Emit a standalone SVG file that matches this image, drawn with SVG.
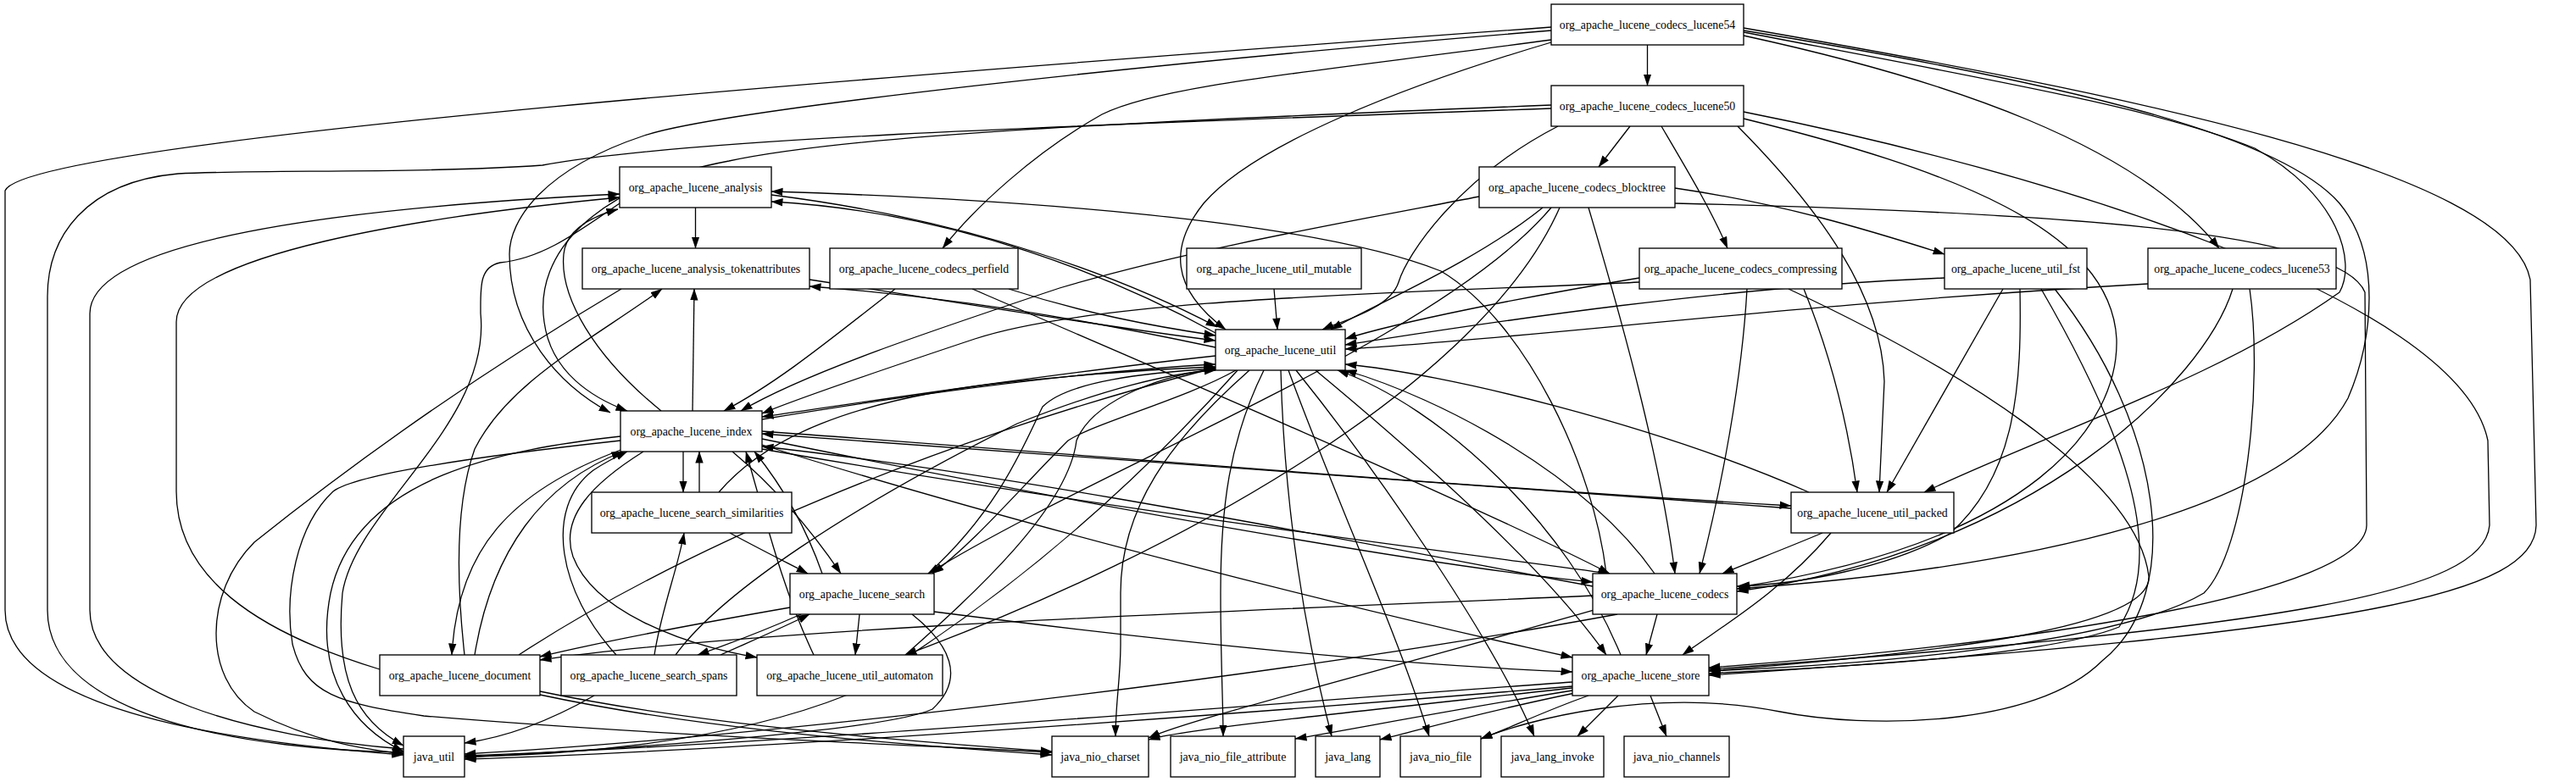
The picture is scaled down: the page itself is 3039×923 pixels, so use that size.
<svg xmlns="http://www.w3.org/2000/svg" width="3039" height="923" viewBox="0 0 3039 923">
<defs>
<marker id="ah" markerUnits="userSpaceOnUse" markerWidth="14" markerHeight="10" viewBox="0 0 14 10" refX="13.5" refY="5" orient="auto"><path d="M0,0.3 L14,5 L0,9.7 z" fill="#000"/></marker>
<style>
.e{fill:none;stroke:#000;stroke-width:1.3;marker-end:url(#ah)}
.n rect{fill:#fff;stroke:#000;stroke-width:1.33}
.n text{font-family:"Liberation Serif","Times New Roman",serif;font-size:13.8px;text-anchor:middle;fill:#000}
</style>
</defs>
<rect width="3039" height="923" fill="#fff"/>
<g id="edges">
<!-- lucene54 -->
<path class="e" d="M1943.5,53 L1943.5,101"/>
<path class="e" d="M1830,32 C1100,85 30,165 6,225 L6,720 C6,850 330,880 476,891"/>
<path class="e" d="M1830,36 C1350,75 850,130 760,160 C640,200 601,260 601,300 C601,390 660,455 720,487"/>
<path class="e" d="M1830,47 C1550,85 1370,100 1300,135 C1220,180 1150,245 1112,293"/>
<path class="e" d="M1830,50 C1660,100 1480,170 1420,240 C1380,290 1380,340 1446,389"/>
<path class="e" d="M2057,42 C2300,95 2520,170 2618,293"/>
<path class="e" d="M2057,38 C2380,100 2550,130 2660,175 C2760,230 2780,310 2760,345 C2620,445 2420,510 2270,581"/>
<path class="e" d="M2057,36 C2450,100 2690,160 2760,240 C2810,300 2800,400 2770,470 C2700,600 2400,670 2049,695"/>
<path class="e" d="M2057,33 C2500,110 2960,200 2985,330 L2992,620 C2990,700 2800,745 2016,797"/>
<!-- lucene50 -->
<path class="e" d="M1923,149 L1886,197"/>
<path class="e" d="M1960,149 C1990,200 2020,250 2038,293"/>
<path class="e" d="M1830,128 C1200,150 800,165 640,195 C500,205 300,200 210,205 C100,215 56,280 56,350 L56,720 C56,850 300,885 476,888"/>
<path class="e" d="M1830,124 C1300,145 1000,160 860,190 C700,220 630,300 642,380 C650,440 700,470 740,485"/>
<path class="e" d="M1838,149 C1720,210 1660,300 1650,333 C1640,365 1580,380 1560,389"/>
<path class="e" d="M2050,149 C2150,250 2220,350 2223,450 L2217,581"/>
<path class="e" d="M2057,140 C2300,200 2490,270 2497,400 C2500,500 2400,640 2051,693"/>
<path class="e" d="M2057,132 C2400,200 2900,350 2935,520 L2937,620 C2930,700 2700,740 2016,790"/>
<!-- blocktree -->
<path class="e" d="M1976,222 C2100,240 2200,270 2294,300"/>
<path class="e" d="M1745,232 C1600,260 1400,295 1250,340 C1100,390 950,440 874,485"/>
<path class="e" d="M1820,245 C1740,310 1620,360 1570,389"/>
<path class="e" d="M1830,245 C1700,400 1300,550 1095,677"/>
<path class="e" d="M1840,245 C1750,450 1400,650 1068,773"/>
<path class="e" d="M1874,245 C1920,400 1960,550 1976,677"/>
<path class="e" d="M1976,240 C2400,250 2760,270 2790,345 L2792,620 C2790,700 2400,760 2016,788"/>
<!-- analysis -->
<path class="e" d="M820.5,245 L820.5,293"/>
<path class="e" d="M731,240 C680,275 640,305 590,310 C565,315 567,340 567,370 C580,500 420,600 404,700 C395,800 420,850 476,880"/>
<path class="e" d="M910,230 C1150,260 1330,330 1436,386"/>
<path class="e" d="M1434,393 C1320,330 1130,250 910,238"/>
<path class="e" d="M1895,677 C1880,550 1800,380 1700,320 C1550,260 1200,235 910,226"/>
<path class="e" d="M780,485 C700,420 660,350 665,300 C668,270 700,255 729,247"/>
<path class="e" d="M448,790 C300,745 208,680 208,580 L208,380 C208,300 500,255 731,233"/>
<path class="e" d="M476,884 C300,870 106,820 106,720 L106,370 C106,300 300,250 731,229"/>
<!-- tokenattributes -->
<path class="e" d="M733,341 C600,420 450,520 300,640 C240,700 240,800 300,840 C380,880 440,885 476,890"/>
<path class="e" d="M1434,410 C1200,360 1050,345 955,338"/>
<path class="e" d="M955,330 C1150,360 1300,385 1434,402"/>
<path class="e" d="M817,485 L819,341"/>
<path class="e" d="M548,773 C540,700 535,600 560,530 C600,450 700,400 781,341"/>
<!-- perfield -->
<path class="e" d="M1056,341 C980,400 920,450 854,485"/>
<path class="e" d="M1190,341 C1280,370 1360,385 1434,396"/>
<path class="e" d="M1147,341 C1400,450 1750,600 1899,677"/>
<!-- mutable -->
<path class="e" d="M1503,341 L1507,389"/>
<!-- compressing -->
<path class="e" d="M1934,328 C1800,350 1650,380 1587,400"/>
<path class="e" d="M1934,333 C1700,345 1300,350 1150,400 C1000,450 930,475 899,488"/>
<path class="e" d="M2061,341 C2055,450 2030,580 2005,677"/>
<path class="e" d="M2128,341 C2160,420 2180,500 2191,581"/>
<path class="e" d="M2110,341 C2300,430 2520,560 2535,680 C2540,740 2300,770 2016,792"/>
<!-- fst -->
<path class="e" d="M2294,328 C2000,340 1700,390 1587,407"/>
<path class="e" d="M2363,341 L2226,581"/>
<path class="e" d="M2383,341 C2385,450 2380,560 2300,630 C2230,670 2120,690 2049,692"/>
<path class="e" d="M2408,341 C2500,500 2560,650 2500,740 C2400,780 2100,790 2016,795"/>
<path class="e" d="M2424,341 C2550,500 2580,700 2480,780 C2400,860 2200,860 2100,840 C1950,810 1800,850 1747,872"/>
<!-- lucene53 -->
<path class="e" d="M2534,335 C2100,360 1800,400 1587,412"/>
<path class="e" d="M2634,341 C2600,450 2400,650 2049,698"/>
<path class="e" d="M2654,341 C2670,450 2650,650 2600,700 C2500,760 2200,785 2016,792"/>
<!-- util -->
<path class="e" d="M1434,420 C1250,440 1050,470 899,492"/>
<path class="e" d="M1458,437 C1400,470 1290,500 1260,520 C1200,580 1150,640 1100,677"/>
<path class="e" d="M1460,437 C1350,560 1200,700 1000,820 C850,880 650,892 548,893"/>
<path class="e" d="M1474,437 C1380,520 1322,600 1322,700 L1322,760 C1322,800 1316,830 1316,869"/>
<path class="e" d="M1491,437 C1450,520 1440,600 1440,700 C1440,780 1443,830 1443,869"/>
<path class="e" d="M1511,437 C1515,600 1540,750 1571,869"/>
<path class="e" d="M1520,437 C1580,600 1650,750 1686,869"/>
<path class="e" d="M1529,437 C1620,550 1760,750 1810,869"/>
<path class="e" d="M1552,437 C1700,560 1830,680 1895,773"/>
<path class="e" d="M1912,773 C1850,620 1700,480 1578,437"/>
<path class="e" d="M1952,677 C1870,560 1700,470 1587,437"/>
<path class="e" d="M899,495 C1050,470 1250,440 1434,430"/>
<path class="e" d="M848,581 C900,520 1000,470 1200,450 C1300,440 1380,435 1434,433"/>
<path class="e" d="M1095,677 C1180,600 1210,520 1230,480 C1260,450 1350,440 1434,435"/>
<path class="e" d="M1068,773 C1150,700 1260,600 1270,520 C1290,470 1380,440 1434,436"/>
<path class="e" d="M797,773 C850,700 1000,600 1200,500 C1300,460 1380,440 1434,437"/>
<path class="e" d="M612,773 C800,650 1100,520 1434,434"/>
<!-- index -->
<path class="e" d="M806,533 L806,581"/>
<path class="e" d="M825,581 L825,533"/>
<path class="e" d="M864,533 C920,580 960,630 992,677"/>
<path class="e" d="M970,677 C950,620 920,570 890,533"/>
<path class="e" d="M732,515 C600,530 420,560 390,700 C370,800 420,860 476,887"/>
<path class="e" d="M732,520 C550,540 420,560 393,580 C350,620 335,700 345,760 C360,820 400,830 500,845 C800,870 1100,880 1241,888"/>
<path class="e" d="M899,525 C1200,620 1600,720 1855,776"/>
<path class="e" d="M735,530 C600,580 540,650 533,773"/>
<path class="e" d="M560,773 C580,650 640,570 735,533"/>
<path class="e" d="M759,533 C700,570 660,610 676,657 C700,720 800,760 893,776"/>
<path class="e" d="M960,773 C925,700 905,620 880,533"/>
<path class="e" d="M727,773 C660,700 640,600 700,555 C715,545 725,540 740,533"/>
<path class="e" d="M899,518 C1300,600 1700,670 1879,687"/>
<path class="e" d="M1879,692 C1600,640 1200,560 899,527"/>
<path class="e" d="M899,530 C1300,600 1700,650 1899,677"/>
<path class="e" d="M2113,600 C1600,560 1200,530 899,512"/>
<path class="e" d="M899,509 C1300,538 1700,573 2113,597"/>
<!-- similarities / search / spans -->
<path class="e" d="M861,629 C900,650 930,665 953,677"/>
<path class="e" d="M772,773 C780,720 800,670 807,629"/>
<path class="e" d="M945,725 C900,745 860,760 823,773"/>
<path class="e" d="M850,773 C890,755 925,740 955,725"/>
<path class="e" d="M1014,725 L1009,773"/>
<path class="e" d="M1076,725 C1120,760 1140,800 1100,837 C1050,860 800,880 548,894"/>
<path class="e" d="M1102,722 C1400,760 1650,785 1855,793"/>
<path class="e" d="M932,717 C800,740 700,760 637,775"/>
<path class="e" d="M701,821 C650,850 600,870 548,877"/>
<!-- document -->
<path class="e" d="M637,816 C800,850 1000,870 1241,887"/>
<path class="e" d="M637,820 C800,855 1000,875 1241,891"/>
<!-- codecs -->
<path class="e" d="M1879,703 C1500,720 900,740 637,779"/>
<path class="e" d="M1955,725 L1942,773"/>
<path class="e" d="M1908,725 C1500,800 900,870 548,890"/>
<path class="e" d="M1880,720 C1600,800 1400,850 1355,871"/>
<!-- packed -->
<path class="e" d="M2134,581 C1950,500 1700,440 1587,430"/>
<path class="e" d="M2150,629 C2100,650 2060,665 2032,677"/>
<path class="e" d="M2160,629 C2100,700 2030,740 1985,773"/>
<!-- store -->
<path class="e" d="M1855,805 C1500,830 900,880 548,892"/>
<path class="e" d="M1855,810 C1500,840 900,885 548,896"/>
<path class="e" d="M1855,812 C1600,840 1400,860 1355,873"/>
<path class="e" d="M1855,815 C1700,840 1600,860 1528,872"/>
<path class="e" d="M1858,818 C1750,840 1680,860 1628,873"/>
<path class="e" d="M1874,821 C1820,840 1780,860 1747,872"/>
<path class="e" d="M1909,821 L1861,869"/>
<path class="e" d="M1947,821 L1966,869"/>
</g>
<g id="n_lucene54" class="n"><rect x="1830" y="5" width="227" height="48"/><text x="1943.5" y="33.7">org_apache_lucene_codecs_lucene54</text></g>
<g id="n_lucene50" class="n"><rect x="1830" y="101" width="227" height="48"/><text x="1943.5" y="129.7">org_apache_lucene_codecs_lucene50</text></g>
<g id="n_blocktree" class="n"><rect x="1745" y="197" width="231" height="48"/><text x="1860.5" y="225.7">org_apache_lucene_codecs_blocktree</text></g>
<g id="n_analysis" class="n"><rect x="731" y="197" width="179" height="48"/><text x="820.5" y="225.7">org_apache_lucene_analysis</text></g>
<g id="n_tokenattributes" class="n"><rect x="687" y="293" width="268" height="48"/><text x="821" y="321.7">org_apache_lucene_analysis_tokenattributes</text></g>
<g id="n_perfield" class="n"><rect x="979" y="293" width="222" height="48"/><text x="1090" y="321.7">org_apache_lucene_codecs_perfield</text></g>
<g id="n_mutable" class="n"><rect x="1400" y="293" width="206" height="48"/><text x="1503" y="321.7">org_apache_lucene_util_mutable</text></g>
<g id="n_compressing" class="n"><rect x="1934" y="293" width="239" height="48"/><text x="2053.5" y="321.7">org_apache_lucene_codecs_compressing</text></g>
<g id="n_fst" class="n"><rect x="2294" y="293" width="168" height="48"/><text x="2378" y="321.7">org_apache_lucene_util_fst</text></g>
<g id="n_lucene53" class="n"><rect x="2534" y="293" width="222" height="48"/><text x="2645" y="321.7">org_apache_lucene_codecs_lucene53</text></g>
<g id="n_util" class="n"><rect x="1434" y="389" width="153" height="48"/><text x="1510.5" y="417.7">org_apache_lucene_util</text></g>
<g id="n_index" class="n"><rect x="732" y="485" width="167" height="48"/><text x="815.5" y="513.7">org_apache_lucene_index</text></g>
<g id="n_similarities" class="n"><rect x="698" y="581" width="236" height="48"/><text x="816" y="609.7">org_apache_lucene_search_similarities</text></g>
<g id="n_packed" class="n"><rect x="2113" y="581" width="192" height="48"/><text x="2209" y="609.7">org_apache_lucene_util_packed</text></g>
<g id="n_search" class="n"><rect x="932" y="677" width="170" height="48"/><text x="1017" y="705.7">org_apache_lucene_search</text></g>
<g id="n_codecs" class="n"><rect x="1879" y="677" width="170" height="48"/><text x="1964" y="705.7">org_apache_lucene_codecs</text></g>
<g id="n_document" class="n"><rect x="448" y="773" width="189" height="48"/><text x="542.5" y="801.7">org_apache_lucene_document</text></g>
<g id="n_spans" class="n"><rect x="662" y="773" width="207" height="48"/><text x="765.5" y="801.7">org_apache_lucene_search_spans</text></g>
<g id="n_automaton" class="n"><rect x="893" y="773" width="219" height="48"/><text x="1002.5" y="801.7">org_apache_lucene_util_automaton</text></g>
<g id="n_store" class="n"><rect x="1855" y="773" width="161" height="48"/><text x="1935.5" y="801.7">org_apache_lucene_store</text></g>
<g id="n_java_util" class="n"><rect x="476" y="869" width="72" height="48"/><text x="512" y="897.7">java_util</text></g>
<g id="n_java_nio_charset" class="n"><rect x="1241" y="869" width="114" height="48"/><text x="1298" y="897.7">java_nio_charset</text></g>
<g id="n_java_nio_file_attribute" class="n"><rect x="1381" y="869" width="147" height="48"/><text x="1454.5" y="897.7">java_nio_file_attribute</text></g>
<g id="n_java_lang" class="n"><rect x="1552" y="869" width="76" height="48"/><text x="1590" y="897.7">java_lang</text></g>
<g id="n_java_nio_file" class="n"><rect x="1652" y="869" width="95" height="48"/><text x="1699.5" y="897.7">java_nio_file</text></g>
<g id="n_java_lang_invoke" class="n"><rect x="1771" y="869" width="121" height="48"/><text x="1831.5" y="897.7">java_lang_invoke</text></g>
<g id="n_java_nio_channels" class="n"><rect x="1916" y="869" width="124" height="48"/><text x="1978" y="897.7">java_nio_channels</text></g>
</svg>
